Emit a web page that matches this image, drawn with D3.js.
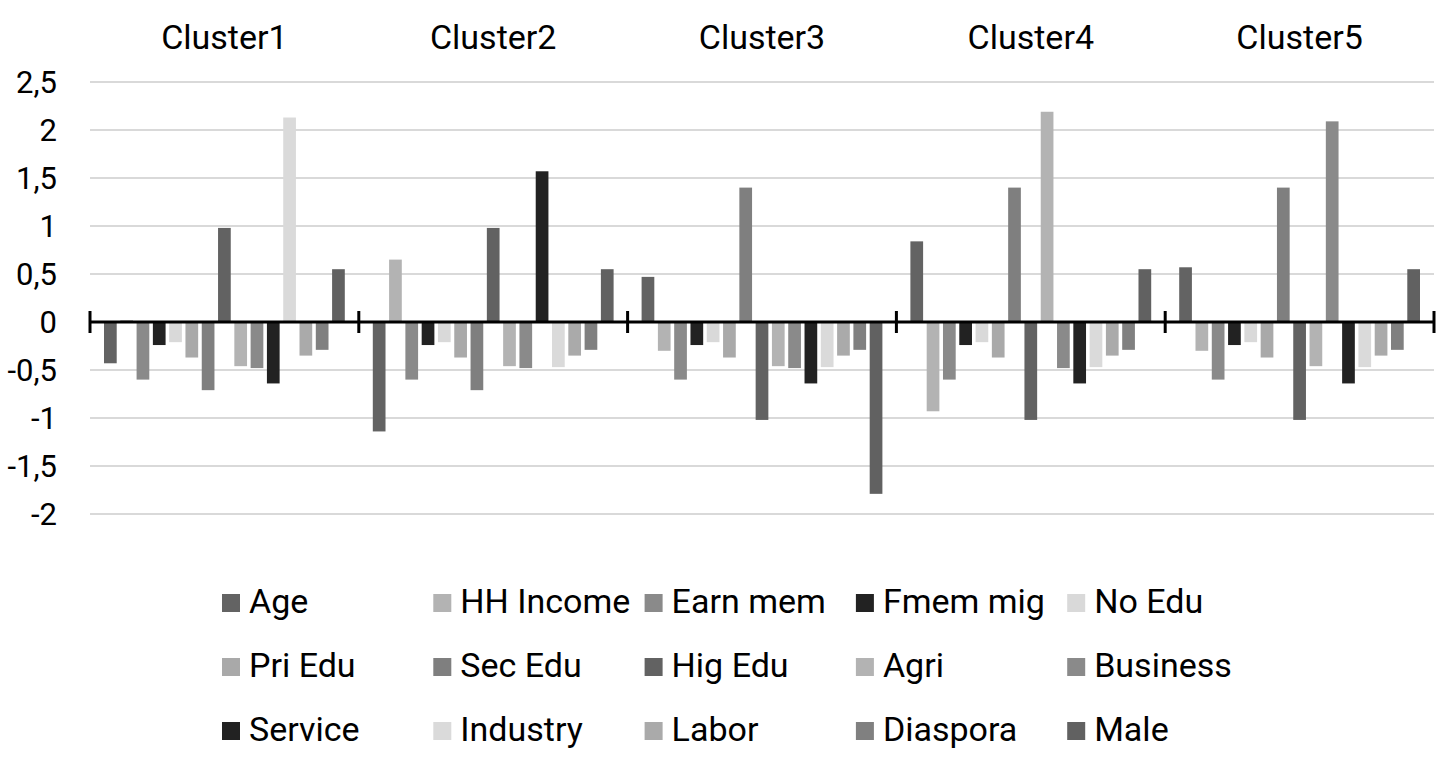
<!DOCTYPE html>
<html>
<head>
<meta charset="utf-8">
<script src="https://cdn.jsdelivr.net/npm/d3@7.9.0/dist/d3.min.js"></script>
<style>
  body { margin: 0; background: #fff; }
  svg { font-family: Roboto, "Noto Sans", sans-serif; }
</style>
</head>
<body>
<svg id="chart" width="1445" height="767"></svg>
<script>
const clusters = ['Cluster1', 'Cluster2', 'Cluster3', 'Cluster4', 'Cluster5'];
const series = ['Age', 'HH Income', 'Earn mem', 'Fmem mig', 'No Edu',
  'Pri Edu', 'Sec Edu', 'Hig Edu', 'Agri', 'Business',
  'Service', 'Industry', 'Labor', 'Diaspora', 'Male'];
const seriesColors = ['#636363', '#b3b3b3', '#8a8a8a', '#222222', '#d9d9d9',
  '#a9a9a9', '#7f7f7f', '#626262', '#b3b3b3', '#8a8a8a',
  '#222222', '#dadada', '#aaaaaa', '#808080', '#616161'];

// one row per cluster, values in series order
const cluster1 = [-0.43, 0.02, -0.60, -0.24, -0.21, -0.37, -0.71, 0.98, -0.46, -0.48, -0.64, 2.13, -0.35, -0.29, 0.55];
const cluster2 = [-1.14, 0.65, -0.60, -0.24, -0.21, -0.37, -0.71, 0.98, -0.46, -0.48, 1.57, -0.47, -0.35, -0.29, 0.55];
const cluster3 = [0.47, -0.30, -0.60, -0.24, -0.21, -0.37, 1.40, -1.02, -0.46, -0.48, -0.64, -0.47, -0.35, -0.29, -1.79];
const cluster4 = [0.84, -0.93, -0.60, -0.24, -0.21, -0.37, 1.40, -1.02, 2.19, -0.48, -0.64, -0.47, -0.35, -0.29, 0.55];
const cluster5 = [0.57, -0.30, -0.60, -0.24, -0.21, -0.37, 1.40, -1.02, -0.46, 2.09, -0.64, -0.47, -0.35, -0.29, 0.55];
const values = [cluster1, cluster2, cluster3, cluster4, cluster5];

const yTicks = [-2, -1.5, -1, -0.5, 0, 0.5, 1, 1.5, 2, 2.5];

const svg = d3.select('#chart');

let x0 = d3.scaleBand().domain(clusters).range([90, 1434]);
let x1 = d3.scaleBand().domain(series)
  .range([14, x0.bandwidth() - 14])
  .paddingInner(0.22).paddingOuter(0);
let y = d3.scaleLinear().domain([-2, 2.5]).range([514, 82]);
let color = d3.scaleOrdinal().domain(series).range(seriesColors);

// gridlines
svg.append('g')
  .selectAll('line')
  .data(yTicks.filter(d => d !== 0))
  .join('line')
  .attr('x1', 90).attr('x2', 1434)
  .attr('y1', d => y(d)).attr('y2', d => y(d))
  .attr('stroke', '#d9d9d9')
  .attr('stroke-width', 2);

// y tick labels
svg.append('g')
  .selectAll('text')
  .data(yTicks)
  .join('text')
  .attr('x', 57)
  .attr('y', d => y(d) + 11)
  .attr('text-anchor', 'end')
  .attr('font-size', 31)
  .attr('fill', '#000')
  .text(d => String(d).replace('.', ','));

// bars
let groups = svg.append('g')
  .selectAll('g')
  .data(clusters)
  .join('g')
  .attr('transform', d => `translate(${x0(d)},0)`);

groups.selectAll('rect')
  .data((d, i) => values[i].map((v, j) => ({ key: series[j], value: v })))
  .join('rect')
  .attr('x', d => x1(d.key))
  .attr('width', x1.bandwidth())
  .attr('y', d => y(Math.max(0, d.value)))
  .attr('height', d => Math.abs(y(d.value) - y(0)))
  .attr('fill', d => color(d.key));

// zero axis with category ticks
svg.append('line')
  .attr('x1', 90).attr('x2', 1434)
  .attr('y1', y(0)).attr('y2', y(0))
  .attr('stroke', '#000')
  .attr('stroke-width', 3);

let tickPos = clusters.map(c => x0(c)).concat([1434]);
svg.append('g')
  .selectAll('line')
  .data(tickPos)
  .join('line')
  .attr('x1', d => d).attr('x2', d => d)
  .attr('y1', y(0) - 11).attr('y2', y(0) + 11)
  .attr('stroke', '#000')
  .attr('stroke-width', 3);

// cluster labels at top
svg.append('g')
  .selectAll('text')
  .data(clusters)
  .join('text')
  .attr('x', d => x0(d) + x0.bandwidth() / 2)
  .attr('y', 49)
  .attr('text-anchor', 'middle')
  .attr('font-size', 34)
  .attr('fill', '#000')
  .text(d => d);

// legend, 5 columns x 3 rows
let legend = svg.append('g');
series.forEach((s, i) => {
  let col = i % 5;
  let row = Math.floor(i / 5);
  let lx = 222 + col * 211.3;
  let ly = 603 + row * 64;
  legend.append('rect')
    .attr('x', lx).attr('y', ly - 9)
    .attr('width', 18).attr('height', 18)
    .attr('fill', seriesColors[i]);
  legend.append('text')
    .attr('x', lx + 27).attr('y', ly + 9.5)
    .attr('font-size', 34)
    .attr('fill', '#000')
    .text(s);
});
</script>
</body>
</html>
